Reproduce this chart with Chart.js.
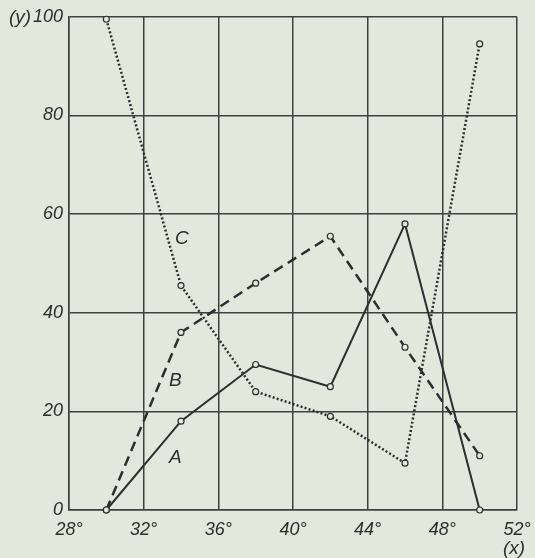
<!DOCTYPE html>
<html>
<head>
<meta charset="utf-8">
<script src="https://cdn.jsdelivr.net/npm/chart.js@4"></script>
<style>
    html, body { margin: 0; padding: 0; background: #e2e8dc; }
    #wrap { width: 535px; height: 558px; }
</style>
</head>
<body>
<div id="wrap"><canvas id="curves"></canvas></div>
<script>
// temperature (x) and the three curves A, B, C
const xValues = [30, 34, 38, 42, 46, 50];
const seriesA = [0, 18, 29.5, 25, 58, 0];
const seriesB = [0, 36, 46, 55.5, 33, 11];
const seriesC = [99.5, 45.5, 24, 19, 9.5, 94.5];

const xTicks = [28, 32, 36, 40, 44, 48, 52];
const yTicks = [0, 20, 40, 60, 80, 100];

// where the curve letters sit, in data units
const curveLabels = [
    { text: 'A', x: 33.7, y: 10.7 },
    { text: 'B', x: 33.7, y: 26.2 },
    { text: 'C', x: 34.05, y: 55 }
];

const ink = '#2e2e2e';
const paper = '#e2e8dc';
const fontFamily = '"Liberation Sans", Arial, sans-serif';

function toPoints(ys) {
    return xValues.map((x, i) => ({ x: x, y: ys[i] }));
}

function lineSet(name, ys, dash, width) {
    return {
        label: name,
        data: toPoints(ys),
        borderColor: ink,
        borderWidth: width,
        borderDash: dash,
        pointRadius: 3,
        pointBackgroundColor: paper,
        pointBorderColor: ink,
        pointBorderWidth: 1.2,
        tension: 0,
        clip: false
    };
}

const extras = {
    id: 'extras',
    beforeDraw(chart) {
        const c = chart.ctx;
        c.save();
        c.fillStyle = paper;
        c.fillRect(0, 0, chart.width, chart.height);
        c.restore();
    },
    afterDraw(chart) {
        const c = chart.ctx;
        const xs = chart.scales.x, ys = chart.scales.y;
        c.save();
        c.fillStyle = ink;
        c.font = 'italic 19px ' + fontFamily;
        c.textAlign = 'center';
        c.textBaseline = 'middle';
        curveLabels.forEach(l => {
            c.fillText(l.text, xs.getPixelForValue(l.x), ys.getPixelForValue(l.y));
        });
        // axis names
        c.fillText('(y)', 20, ys.getPixelForValue(100) + 1);
        c.fillText('(x)', xs.getPixelForValue(52) - 3, chart.height - 9);
        c.restore();
    }
};

new Chart(document.getElementById('curves'), {
    type: 'line',
    data: {
        datasets: [
            lineSet('A', seriesA, [], 2),
            lineSet('B', seriesB, [10, 6], 2.5),
            lineSet('C', seriesC, [2, 2.2], 2.5)
        ]
    },
    options: {
        responsive: true,
        maintainAspectRatio: false,
        animation: false,
        layout: { padding: { top: 14, right: 18, left: 0, bottom: 0 } },
        plugins: {
            legend: { display: false },
            tooltip: { enabled: false }
        },
        scales: {
            x: {
                type: 'linear',
                min: 28,
                max: 52,
                afterBuildTicks: s => { s.ticks = xTicks.map(v => ({ value: v })); },
                afterFit: s => { s.height = 48; s.paddingLeft = 0; s.paddingRight = 0; },
                grid: { color: '#404040', lineWidth: 1.5, drawTicks: false },
                border: { color: '#404040', width: 1.5 },
                ticks: {
                    padding: 9,
                    color: ink,
                    font: { family: fontFamily, size: 18, style: 'italic' },
                    callback: v => v + '°'
                }
            },
            y: {
                min: 0,
                max: 100,
                afterBuildTicks: s => { s.ticks = yTicks.map(v => ({ value: v })); },
                afterFit: s => { s.width = 69; },
                grid: { color: '#404040', lineWidth: 1.5, drawTicks: false },
                border: { color: '#404040', width: 1.5 },
                ticks: {
                    padding: 6,
                    color: ink,
                    font: { family: fontFamily, size: 18, style: 'italic' }
                }
            }
        }
    },
    plugins: [extras]
});
</script>
</body>
</html>
